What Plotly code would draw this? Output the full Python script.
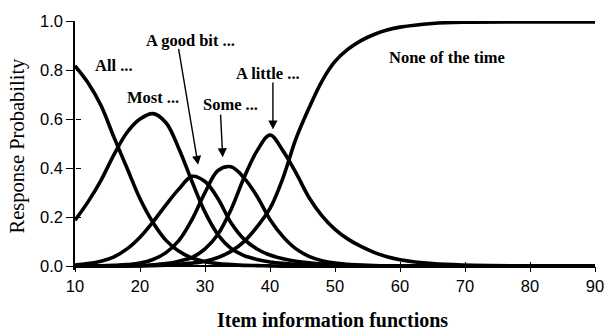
import plotly.graph_objects as go

# Trait level grid (x axis)
theta = [10, 12, 14, 16, 18, 20, 22, 24, 26, 28, 30, 32, 34, 36, 38, 40,
         42, 44, 46, 48, 50, 52, 54, 56, 58, 60, 65, 70, 80, 90]

# Category response probabilities, one list per response option
p_all = [0.817, 0.748, 0.655, 0.525, 0.400, 0.275, 0.178, 0.105, 0.060, 0.033,
         0.018, 0.010, 0.006, 0.003, 0.002, 0.001, 0, 0, 0, 0,
         0, 0, 0, 0, 0, 0, 0, 0, 0, 0]
p_most = [0.187, 0.262, 0.350, 0.455, 0.545, 0.600, 0.622, 0.585, 0.478, 0.345,
          0.220, 0.128, 0.072, 0.043, 0.027, 0.017, 0.011, 0.007, 0.004, 0.002,
          0.001, 0, 0, 0, 0, 0, 0, 0, 0, 0]
p_goodbit = [0.004, 0.010, 0.020, 0.038, 0.070, 0.118, 0.180, 0.250, 0.315, 0.366,
             0.345, 0.275, 0.177, 0.110, 0.070, 0.045, 0.030, 0.020, 0.013, 0.008,
             0.005, 0.003, 0.002, 0.001, 0, 0, 0, 0, 0, 0]
p_some = [0, 0, 0.001, 0.003, 0.006, 0.012, 0.027, 0.055, 0.105, 0.190,
          0.300, 0.390, 0.405, 0.360, 0.285, 0.190, 0.120, 0.070, 0.040, 0.022,
          0.012, 0.007, 0.004, 0.002, 0.001, 0, 0, 0, 0, 0]
p_little = [0, 0, 0, 0, 0.001, 0.002, 0.005, 0.010, 0.020, 0.035,
            0.070, 0.130, 0.230, 0.360, 0.470, 0.535, 0.470, 0.380, 0.280, 0.205,
            0.150, 0.110, 0.080, 0.056, 0.038, 0.026, 0.010, 0.004, 0.001, 0]
p_none = [0, 0, 0, 0, 0, 0.001, 0.002, 0.004, 0.007, 0.012,
          0.020, 0.035, 0.060, 0.100, 0.160, 0.235, 0.360, 0.520, 0.645, 0.755,
          0.835, 0.885, 0.920, 0.945, 0.963, 0.975, 0.990, 0.995, 0.996, 0.996]

series = [p_all, p_most, p_goodbit, p_some, p_little, p_none]

x_ticks = [10, 20, 30, 40, 50, 60, 70, 80, 90]
x_tick_text = ["10", "20", "30", "40", "50", "60", "70", "80", "90"]
y_ticks = [0.0, 0.2, 0.4, 0.6, 0.8, 1.0]
y_tick_text = ["0.0", "0.2", "0.4", "0.6", "0.8", "1.0"]

SERIF = "Liberation Serif, Times New Roman, serif"
SANS = "Liberation Sans, Arial, Helvetica, sans-serif"

X_RANGE = [10, 90]
Y_RANGE = [-0.016, 1.0]
X_AXIS_POS = -Y_RANGE[0] / (Y_RANGE[1] - Y_RANGE[0])

fig = go.Figure()
for ys in series:
    fig.add_trace(go.Scatter(
        x=theta, y=ys, mode="lines",
        line=dict(color="#000000", width=3.6, shape="spline", smoothing=1.0),
        hoverinfo="skip", showlegend=False,
    ))

# empty trace so the overlay axes (inner half of the crossing ticks) get drawn
fig.add_trace(go.Scatter(x=[], y=[], xaxis="x2", yaxis="y2", showlegend=False))

axis_common = dict(showgrid=False, zeroline=False, color="#000000")

fig.update_layout(
    width=616, height=330,
    margin=dict(l=75, r=12, t=16, b=60),
    paper_bgcolor="white", plot_bgcolor="white",
    xaxis=dict(
        range=X_RANGE, anchor="free", position=X_AXIS_POS,
        tickmode="array", tickvals=x_ticks, ticktext=x_tick_text,
        ticks="outside", ticklen=5, tickwidth=1.2, tickcolor="#000",
        showline=True, linecolor="#000", linewidth=1.5,
        tickfont=dict(family=SANS, size=16.5, color="#000"),
        **axis_common,
    ),
    yaxis=dict(
        range=Y_RANGE,
        tickmode="array", tickvals=y_ticks, ticktext=y_tick_text,
        ticks="outside", ticklen=7, tickwidth=1.2, tickcolor="#000",
        showline=True, linecolor="#000", linewidth=1.5,
        tickfont=dict(family=SANS, size=16.5, color="#000"),
        **axis_common,
    ),
    xaxis2=dict(
        range=X_RANGE, overlaying="x", anchor="free", position=X_AXIS_POS,
        tickmode="array", tickvals=x_ticks, ticks="inside", ticklen=4,
        tickwidth=1.2, tickcolor="#000", showticklabels=False, showline=False,
        **axis_common,
    ),
    yaxis2=dict(
        range=Y_RANGE, overlaying="y", anchor="free", position=0, side="left",
        tickmode="array", tickvals=y_ticks, ticks="inside", ticklen=5,
        tickwidth=1.2, tickcolor="#000", showticklabels=False, showline=False,
        **axis_common,
    ),
)

labels = [
    ("All ...", 12.7, 0.82),
    ("Most ...", 17.7, 0.688),
    ("A good bit ...", 20.6, 0.92),
    ("Some ...", 29.4, 0.66),
    ("A little ...", 34.4, 0.784),
    ("None of the time", 58.0, 0.852),
]
for text, lx, ly in labels:
    fig.add_annotation(
        x=lx, y=ly, xref="x", yref="y", text=f"<b>{text}</b>",
        showarrow=False, xanchor="left", yanchor="middle",
        font=dict(family=SERIF, size=16.5, color="#000"),
    )

# pointer arrows: (tail x, tail y, head x, head y)
arrows = [
    (25.9, 0.892, 28.94, 0.413),
    (32.38, 0.624, 32.73, 0.444),
    (40.45, 0.755, 40.45, 0.557),
]
for tx, ty, hx, hy in arrows:
    fig.add_annotation(
        x=hx, y=hy, ax=tx, ay=ty, xref="x", yref="y", axref="x", ayref="y",
        text="", showarrow=True, arrowhead=2, arrowsize=1.3, arrowwidth=1.4,
        arrowcolor="#000", standoff=0, startstandoff=0,
    )

fig.add_annotation(
    x=(17 - 75) / 529, y=0.5, xref="paper", yref="paper",
    text="Response Probability", textangle=-90, showarrow=False,
    xanchor="center", yanchor="middle",
    font=dict(family=SERIF, size=20.5, color="#000"),
)
fig.add_annotation(
    x=(337 - 75) / 529, y=(270 - 321) / 254, xref="paper", yref="paper",
    text="<b>Item information functions</b>", showarrow=False,
    xanchor="center", yanchor="middle",
    font=dict(family=SERIF, size=20, color="#000"),
)

fig.write_html("out.html")
